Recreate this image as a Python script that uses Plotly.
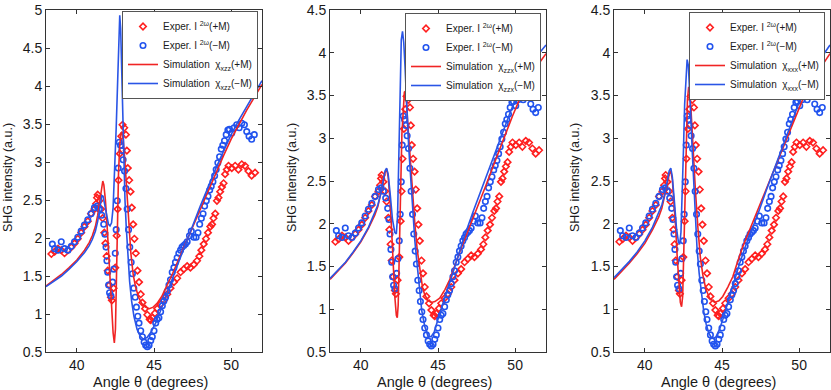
import plotly.graph_objects as go

# ---------------- data ----------------
# Experimental I(2w), +M (red diamonds)
exp_plus_x = [38.35, 38.56, 38.78, 38.99, 39.20, 39.42, 39.64, 39.85, 40.06, 40.28, 40.49, 40.71, 40.92, 41.14,
              41.25, 41.31, 41.35, 41.46, 41.57, 41.67, 41.78, 41.85, 41.93, 42.00, 42.10, 42.21, 42.27, 42.38,
              42.49, 42.58, 42.64, 42.70, 42.79, 42.88, 42.96, 43.07, 43.18, 43.24, 43.30, 43.39, 43.48, 43.56,
              43.65, 43.73, 43.82, 43.93, 44.03, 44.14, 44.25, 44.42, 44.57, 44.72, 44.79, 44.89, 45.06, 45.21,
              45.43, 45.64, 45.86, 46.07, 46.29, 46.50, 46.72, 46.93, 47.15, 47.36, 47.58, 47.79, 47.94, 48.07,
              48.22, 48.37, 48.50, 48.65, 48.76, 48.86, 48.97, 49.08, 49.18, 49.29, 49.40, 49.51, 49.61, 49.72,
              49.83, 50.04, 50.26, 50.47, 50.69, 50.90, 51.12, 51.33, 51.55]
exp_plus_y = [1.79, 1.82, 1.86, 1.84, 1.80, 1.84, 1.88, 1.93, 1.99, 2.07, 2.15, 2.22, 2.32, 2.38,
              2.45, 2.53, 2.57, 2.49, 2.38, 2.26, 2.07, 1.93, 1.76, 1.57, 1.38, 1.22, 1.18, 1.34,
              1.61, 2.03, 2.38, 2.76, 3.11, 3.34, 3.49, 3.45, 3.36, 3.15, 2.92, 2.76, 2.61, 2.40,
              2.18, 1.99, 1.80, 1.57, 1.42, 1.26, 1.15, 1.07, 0.99, 0.93, 0.92, 0.95, 1.01, 1.07,
              1.13, 1.18, 1.26, 1.34, 1.42, 1.47, 1.55, 1.59, 1.63, 1.61, 1.65, 1.70, 1.76, 1.84,
              1.92, 1.99, 2.07, 2.15, 2.18, 2.26, 2.32, 2.49, 2.53, 2.61, 2.67, 2.72, 2.84, 2.90,
              2.95, 2.92, 2.95, 2.90, 2.97, 2.95, 2.88, 2.82, 2.86]

# Experimental I(2w), -M (blue circles)
exp_minus_x = [38.41, 38.56, 38.78, 38.99, 39.20, 39.42, 39.64, 39.85, 40.06, 40.28, 40.49, 40.71, 40.92, 41.14,
               41.31, 41.46, 41.61, 41.74, 41.82, 41.89, 41.95, 42.00, 42.06, 42.12, 42.21, 42.32, 42.40, 42.49,
               42.55, 42.62, 42.68, 42.75, 42.83, 42.92, 43.00, 43.09, 43.18, 43.26, 43.35, 43.43, 43.52, 43.60,
               43.69, 43.78, 43.86, 43.95, 44.03, 44.14, 44.25, 44.36, 44.46, 44.57, 44.68, 44.79, 44.89, 45.00,
               45.11, 45.21, 45.32, 45.43, 45.54, 45.64, 45.75, 45.86, 45.97, 46.07, 46.18, 46.29, 46.39, 46.50,
               46.61, 46.72, 46.82, 46.93, 47.04, 47.15, 47.30, 47.42, 47.58, 47.73, 47.85, 47.96, 48.07, 48.18,
               48.28, 48.39, 48.50, 48.61, 48.71, 48.82, 48.93, 49.03, 49.14, 49.25, 49.36, 49.46, 49.57, 49.68,
               49.79, 49.89, 50.04, 50.19, 50.36, 50.52, 50.69, 50.86, 51.01, 51.16, 51.33, 51.50]
exp_minus_y = [1.92, 1.86, 1.84, 1.95, 1.86, 1.84, 1.89, 1.95, 2.01, 2.09, 2.17, 2.24, 2.32, 2.40,
               2.42, 2.38, 2.30, 2.18, 2.05, 1.88, 1.70, 1.55, 1.38, 1.28, 1.24, 1.42, 1.59, 1.80,
               2.11, 2.49, 2.92, 3.26, 3.22, 3.15, 3.03, 2.88, 2.65, 2.38, 2.11, 1.88, 1.68, 1.53,
               1.34, 1.22, 1.09, 0.97, 0.88, 0.78, 0.70, 0.63, 0.59, 0.57, 0.59, 0.65, 0.70, 0.78,
               0.88, 0.93, 0.95, 1.03, 1.11, 1.17, 1.22, 1.30, 1.38, 1.45, 1.55, 1.61, 1.68, 1.74,
               1.80, 1.84, 1.88, 1.90, 1.92, 1.95, 2.03, 2.09, 2.01, 2.01, 2.07, 2.18, 2.26, 2.32,
               2.42, 2.49, 2.55, 2.63, 2.68, 2.74, 2.82, 2.90, 2.99, 3.07, 3.17, 3.22, 3.28, 3.36,
               3.42, 3.43, 3.38, 3.45, 3.49, 3.45, 3.51, 3.49, 3.40, 3.34, 3.30, 3.36]

# Simulation chi_xzz (panel 1)
sim1_plus_x = [38.0, 38.5, 39.0, 39.5, 40.0, 40.5, 40.8, 41.0, 41.2, 41.35, 41.45, 41.55, 41.62, 41.68, 41.75,
               41.85, 41.95, 42.05, 42.15, 42.25, 42.35, 42.43, 42.50, 42.56, 42.62, 42.70, 42.78, 42.86, 42.93,
               43.00, 43.10, 43.20, 43.30, 43.40, 43.50, 43.65, 43.80, 44.00, 44.20, 44.45, 44.70, 44.95, 45.20,
               45.50, 45.80, 46.20, 46.60, 47.00, 47.50, 48.00, 48.50, 49.00, 49.50, 50.00, 50.50, 51.00, 51.50, 52.00]
sim1_plus_y = [1.37, 1.44, 1.52, 1.61, 1.71, 1.84, 1.94, 2.03, 2.15, 2.30, 2.45, 2.62, 2.72, 2.75, 2.70,
               2.50, 2.20, 1.85, 1.45, 1.05, 0.75, 0.62, 0.80, 1.40, 2.20, 2.85, 3.22, 3.38, 3.40,
               3.30, 3.05, 2.70, 2.35, 2.05, 1.80, 1.52, 1.36, 1.22, 1.14, 1.09, 1.07, 1.09, 1.14,
               1.23, 1.35, 1.53, 1.72, 1.91, 2.14, 2.38, 2.62, 2.85, 3.08, 3.30, 3.50, 3.68, 3.85, 4.02]
sim1_minus_x = [38.0, 38.5, 39.0, 39.5, 40.0, 40.5, 40.8, 41.0, 41.2, 41.35, 41.45, 41.55, 41.62, 41.70, 41.80,
                41.92, 42.05, 42.15, 42.25, 42.35, 42.45, 42.55, 42.65, 42.72, 42.78, 42.84, 42.90, 42.97, 43.05,
                43.12, 43.20, 43.30, 43.42, 43.55, 43.70, 43.90, 44.10, 44.30, 44.55, 44.80, 45.10, 45.40, 45.70,
                46.00, 46.40, 46.80, 47.20, 47.60, 48.00, 48.50, 49.00, 49.50, 50.00, 50.50, 51.00, 51.50, 52.00]
sim1_minus_y = [1.36, 1.43, 1.50, 1.59, 1.69, 1.81, 1.90, 1.98, 2.09, 2.22, 2.36, 2.50, 2.56, 2.55, 2.45,
                2.30, 2.18, 2.16, 2.20, 2.40, 2.85, 3.45, 4.10, 4.60, 4.93, 4.75, 4.25, 3.55, 2.95,
                2.50, 2.15, 1.78, 1.43, 1.17, 0.97, 0.80, 0.71, 0.67, 0.69, 0.76, 0.88, 1.03, 1.20,
                1.36, 1.58, 1.79, 2.01, 2.21, 2.42, 2.67, 2.91, 3.14, 3.36, 3.55, 3.73, 3.90, 4.07]

# Simulation chi_zzx (panel 2)
sim2_plus_x = [38.0, 38.5, 39.0, 39.5, 40.0, 40.5, 40.9, 41.1, 41.3, 41.45, 41.57, 41.67, 41.77, 41.90, 42.00,
               42.10, 42.20, 42.30, 42.36, 42.42, 42.50, 42.58, 42.66, 42.74, 42.82, 42.88, 42.95, 43.05, 43.18,
               43.30, 43.40, 43.50, 43.65, 43.82, 44.00, 44.14, 44.35, 44.57, 44.80, 45.11, 45.45, 45.75, 46.05,
               46.39, 46.80, 47.25, 47.70, 48.11, 48.55, 48.97, 49.40, 49.83, 50.30, 50.80, 51.40, 52.00]
sim2_plus_y = [1.35, 1.44, 1.54, 1.66, 1.79, 1.95, 2.10, 2.20, 2.34, 2.48, 2.60, 2.64, 2.55, 2.25, 1.90,
               1.50, 1.15, 0.93, 0.90, 1.05, 1.60, 2.40, 3.05, 3.40, 3.54, 3.55, 3.45, 3.15, 2.80,
               2.45, 2.20, 2.00, 1.70, 1.45, 1.25, 1.17, 1.10, 1.08, 1.09, 1.13, 1.23, 1.34, 1.50,
               1.66, 1.85, 2.05, 2.27, 2.45, 2.66, 2.86, 3.06, 3.26, 3.46, 3.65, 3.84, 3.99]
sim2_minus_x = [38.0, 38.5, 39.0, 39.5, 40.0, 40.5, 40.9, 41.1, 41.3, 41.45, 41.57, 41.67, 41.77, 41.90, 42.05,
                42.20, 42.30, 42.38, 42.45, 42.50, 42.55, 42.62, 42.70, 42.78, 42.86, 42.93, 43.00, 43.10, 43.20,
                43.28, 43.40, 43.50, 43.60, 43.72, 43.82, 43.95, 44.14, 44.36, 44.55, 44.75, 45.11, 45.54, 45.97,
                46.30, 46.61, 47.25, 48.11, 48.97, 49.61, 50.26, 50.80, 51.40, 52.00]
sim2_minus_y = [1.36, 1.45, 1.55, 1.67, 1.80, 1.96, 2.12, 2.22, 2.36, 2.50, 2.62, 2.65, 2.58, 2.35, 2.05,
                1.90, 1.88, 2.10, 2.70, 3.30, 3.80, 4.15, 4.25, 4.12, 3.85, 3.55, 3.22, 2.90, 2.62,
                2.38, 2.00, 1.80, 1.61, 1.38, 1.18, 0.98, 0.80, 0.68, 0.68, 0.73, 0.95, 1.18, 1.43,
                1.62, 1.80, 2.13, 2.55, 2.97, 3.27, 3.57, 3.78, 3.96, 4.09]

# Simulation chi_xxx (panel 3)
sim3_plus_x = [38.0, 38.5, 39.0, 39.5, 40.0, 40.5, 40.9, 41.1, 41.3, 41.45, 41.58, 41.68, 41.78, 41.90, 42.00,
               42.10, 42.20, 42.30, 42.38, 42.45, 42.52, 42.60, 42.68, 42.76, 42.84, 42.92, 43.00, 43.12, 43.28,
               43.44, 43.60, 43.76, 43.95, 44.19, 44.52, 44.80, 45.05, 45.38, 45.70, 46.00, 46.34, 46.75, 47.20,
               47.63, 48.06, 48.50, 48.92, 49.35, 49.78, 50.20, 50.65, 51.30, 52.00]
sim3_plus_y = [1.35, 1.44, 1.54, 1.65, 1.77, 1.93, 2.08, 2.18, 2.32, 2.46, 2.58, 2.62, 2.52, 2.25, 1.95,
               1.60, 1.28, 1.08, 1.03, 1.15, 1.65, 2.40, 3.05, 3.45, 3.60, 3.55, 3.30, 2.88, 2.38,
               1.95, 1.60, 1.40, 1.24, 1.13, 1.08, 1.10, 1.15, 1.26, 1.38, 1.55, 1.73, 1.91, 2.11,
               2.30, 2.49, 2.69, 2.88, 3.07, 3.26, 3.44, 3.59, 3.80, 3.99]
sim3_minus_x = [38.0, 38.5, 39.0, 39.5, 40.0, 40.5, 40.9, 41.1, 41.3, 41.45, 41.58, 41.68, 41.78, 41.92, 42.05,
                42.18, 42.26, 42.34, 42.42, 42.50, 42.58, 42.66, 42.74, 42.82, 42.90, 42.98, 43.07, 43.16, 43.27,
                43.38, 43.52, 43.66, 43.82, 43.98, 44.15, 44.30, 44.46, 44.62, 44.85, 45.05, 45.25, 45.48, 45.80,
                46.13, 46.55, 46.99, 47.42, 47.85, 48.28, 48.71, 49.14, 49.57, 50.00, 50.45, 51.00, 51.50, 52.00]
sim3_minus_y = [1.37, 1.46, 1.56, 1.67, 1.80, 1.96, 2.12, 2.22, 2.36, 2.50, 2.62, 2.65, 2.55, 2.25, 1.95,
                1.78, 1.76, 1.90, 2.30, 2.85, 3.40, 3.75, 3.92, 3.85, 3.60, 3.25, 2.85, 2.49, 2.08,
                1.72, 1.42, 1.18, 0.97, 0.82, 0.72, 0.67, 0.66, 0.68, 0.77, 0.88, 1.00, 1.15, 1.34,
                1.53, 1.75, 1.95, 2.16, 2.38, 2.59, 2.80, 3.01, 3.22, 3.42, 3.61, 3.81, 3.96, 4.09]

chi_labels = ["xzz", "zzx", "xxx"]
y_ranges = [[0.5, 5.0], [0.5, 4.5], [0.5, 4.5]]
x_ticks = [40, 45, 50]
sims = [(sim1_plus_x, sim1_plus_y, sim1_minus_x, sim1_minus_y),
        (sim2_plus_x, sim2_plus_y, sim2_minus_x, sim2_minus_y),
        (sim3_plus_x, sim3_plus_y, sim3_minus_x, sim3_minus_y)]

# ---------------- style ----------------
W, H = 831, 390
ML, MR, MT, MB = 46, 1, 10, 38
PW, PH = W - ML - MR, H - MT - MB
panels_px = [(46, 262), (330, 546), (614, 830)]
legend_px = [(258, 11), (541, 13), (825, 12)]   # right edge, top edge
ylabel_px = [8, 292, 575]
RED = "#ff1f1f"
BLUE = "#2153ee"
RED_L = "#f02424"
BLUE_L = "#2a55e6"
FONT = "Liberation Sans"
AX = "#333333"
TXT = "#1a1a1a"
NBSP = "\u00a0"

fig = go.Figure()
for i in range(3):
    xa = "x" if i == 0 else f"x{i+1}"
    ya = "y" if i == 0 else f"y{i+1}"
    lg = "legend" if i == 0 else f"legend{i+1}"
    spx, spy, smx, smy = sims[i]
    fig.add_trace(go.Scatter(x=exp_plus_x, y=exp_plus_y, mode="markers", xaxis=xa, yaxis=ya, legend=lg,
                             name="Exper. I <sup>2ω</sup>(+M)",
                             marker=dict(symbol="diamond-open", size=5, color=RED, line=dict(width=1.6, color=RED))))
    fig.add_trace(go.Scatter(x=exp_minus_x, y=exp_minus_y, mode="markers", xaxis=xa, yaxis=ya, legend=lg,
                             name="Exper. I <sup>2ω</sup>(\u2212M)",
                             marker=dict(symbol="circle-open", size=5.5, color=BLUE, line=dict(width=1.6, color=BLUE))))
    fig.add_trace(go.Scatter(x=spx, y=spy, mode="lines", xaxis=xa, yaxis=ya, legend=lg,
                             name=f"Simulation{NBSP} χ<sub>{chi_labels[i]}</sub>(+M)",
                             line=dict(color=RED_L, width=1.6)))
    fig.add_trace(go.Scatter(x=smx, y=smy, mode="lines", xaxis=xa, yaxis=ya, legend=lg,
                             name=f"Simulation{NBSP} χ<sub>{chi_labels[i]}</sub>(\u2212M)",
                             line=dict(color=BLUE_L, width=1.6)))

layout = dict(width=W, height=H, margin=dict(l=ML, r=MR, t=MT, b=MB, pad=0),
              paper_bgcolor="white", plot_bgcolor="white",
              font=dict(family=FONT, size=14, color=TXT),
              annotations=[])
for i in range(3):
    a, b = panels_px[i]
    dom = [(a - ML) / PW, (b - ML) / PW]
    xk = "xaxis" if i == 0 else f"xaxis{i+1}"
    yk = "yaxis" if i == 0 else f"yaxis{i+1}"
    xa = "x" if i == 0 else f"x{i+1}"
    ya = "y" if i == 0 else f"y{i+1}"
    common = dict(showline=True, mirror="ticks", linecolor=AX, linewidth=1, ticks="inside", ticklen=4,
                  tickcolor=AX, tickwidth=1, showgrid=False, zeroline=False,
                  tickfont=dict(family=FONT, size=14, color=TXT))
    layout[xk] = dict(domain=dom, range=[38, 52], tickvals=x_ticks, anchor=ya, **common)
    lo, hi = y_ranges[i]
    tv = [lo + 0.5 * k for k in range(int(round((hi - lo) / 0.5)) + 1)]
    layout[yk] = dict(domain=[0, 1], range=[lo, hi], tickvals=tv,
                      ticktext=[("%g" % v) for v in tv], anchor=xa, **common)
    lk = "legend" if i == 0 else f"legend{i+1}"
    lx, ly = legend_px[i]
    layout[lk] = dict(x=(lx - ML) / PW, y=1 - (ly - MT) / PH, xanchor="right", yanchor="top",
                      xref="paper", yref="paper",
                      bgcolor="white", bordercolor="#555555", borderwidth=1,
                      font=dict(family=FONT, size=10, color=TXT), itemwidth=30,
                      tracegroupgap=0)
    layout["annotations"].append(dict(text="SHG intensity (a.u.)", xref="paper", yref="paper",
                                      x=(ylabel_px[i] - ML) / PW, y=1 - (178 - MT) / PH, textangle=-90,
                                      showarrow=False, xanchor="center", yanchor="middle",
                                      font=dict(family=FONT, size=12.5, color=TXT)))
    layout["annotations"].append(dict(text="Angle θ (degrees)", xref="paper", yref="paper",
                                      x=((a + b) / 2 - 4 - ML) / PW, y=1 - (382 - MT) / PH,
                                      showarrow=False, xanchor="center", yanchor="middle",
                                      font=dict(family=FONT, size=14.5, color=TXT)))
fig.update_layout(**layout)
fig.write_html("out.html", config={"displayModeBar": False},
               post_script="document.body.style.margin='0px';document.body.style.padding='0px';")
